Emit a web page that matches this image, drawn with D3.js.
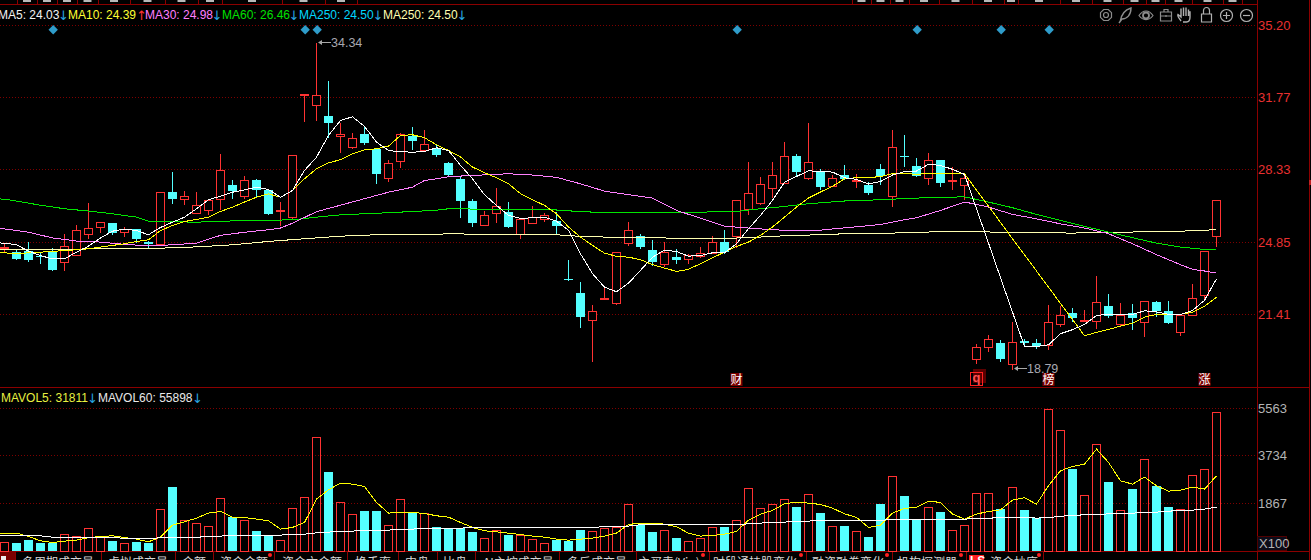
<!DOCTYPE html>
<html><head><meta charset="utf-8">
<script src="https://cdn.jsdelivr.net/npm/d3@7/dist/d3.min.js"></script>
<style>
html,body{margin:0;padding:0;background:#000;overflow:hidden}
svg{display:block;font-family:"Liberation Sans",Arial,sans-serif}
.tab{font-family:"Noto Sans CJK SC",sans-serif;font-size:12px;fill:#d8d8d8}
</style></head><body>
<svg id="c" width="1311" height="560"></svg>
<script>
const opens=[24.57,24.38,24.43,24.19,24.38,23.91,24.24,25.24,25.58,25.77,25.34,25.48,24.86,24.77,27.25,26.91,26.25,26.39,26.91,27.58,27.06,27.82,27.34,26.34,26.05,31.88,31.40,30.87,29.92,29.40,30.02,29.30,27.92,28.73,29.92,29.25,29.30,28.63,27.87,26.82,25.67,26.25,26.29,25.24,25.77,25.96,25.86,23.10,22.43,21.14,22.12,21.95,24.81,25.15,24.48,23.81,24.15,24.05,24.19,24.34,24.86,25.15,26.44,26.72,27.44,27.68,28.96,27.92,28.25,27.53,28.06,27.80,27.58,28.35,27.06,28.96,28.49,27.92,28.77,27.77,27.58,19.28,19.85,20.04,19.04,20.14,20.04,19.95,20.95,21.47,21.12,21.09,21.81,20.95,21.47,21.04,22.00,21.57,20.57,21.38,22.33,25.15];
const highs=[24.81,24.53,24.86,24.34,24.57,25.24,25.67,26.72,25.82,25.77,25.58,25.48,24.91,27.25,28.20,27.30,27.25,26.87,29.06,27.82,28.01,27.87,27.34,26.77,29.01,31.92,34.34,32.54,30.54,30.06,30.40,29.30,28.77,30.06,30.35,30.21,29.54,28.68,28.01,26.91,26.34,27.44,26.77,25.96,26.58,26.25,26.29,24.00,22.95,21.85,22.76,24.38,25.82,25.24,24.95,24.86,24.53,24.29,24.62,25.15,25.43,26.87,28.68,27.96,28.68,29.63,29.06,30.54,28.35,28.06,28.54,28.11,27.72,28.58,30.21,29.97,28.87,29.11,28.77,28.44,28.15,19.99,20.42,20.18,21.04,20.23,20.23,21.85,21.81,21.71,21.62,23.24,22.38,21.95,21.90,22.05,22.05,22.05,21.38,22.86,24.43,26.87];
const lows=[24.38,24.05,23.96,23.86,23.53,23.53,24.24,25.05,25.34,25.24,25.15,24.86,24.62,24.77,26.72,26.68,26.25,26.20,26.44,26.96,26.96,27.01,26.20,25.67,25.96,30.64,30.68,29.87,29.16,29.35,29.54,27.68,27.77,28.44,29.30,29.25,28.96,28.06,26.05,25.62,25.67,25.82,25.58,25.05,25.77,25.86,25.29,23.05,20.81,19.18,22.12,21.90,24.72,24.57,23.76,23.72,23.86,23.86,24.15,24.34,24.34,24.62,26.20,26.68,27.01,27.68,28.01,27.87,27.39,27.53,27.87,27.49,27.15,27.63,26.58,28.49,28.01,27.63,27.53,27.39,26.91,19.09,19.66,19.18,18.79,19.90,19.80,19.76,20.85,21.09,21.09,20.76,21.28,20.90,20.71,20.37,21.33,21.00,20.42,21.38,22.09,24.67];
const closes=[24.62,24.05,24.00,24.15,23.53,24.67,25.43,25.53,25.82,25.29,25.48,25.00,24.77,27.25,26.91,27.06,26.63,26.87,28.30,27.30,27.82,27.34,26.20,26.39,29.01,31.92,31.88,30.54,30.02,29.82,29.59,28.11,28.63,30.02,29.68,29.54,29.01,28.06,26.82,25.77,26.15,26.58,25.58,25.96,26.05,26.15,25.62,23.05,21.28,21.57,22.17,24.38,25.43,24.62,23.91,24.38,24.00,24.24,24.34,24.86,24.38,26.87,27.20,27.63,28.06,28.96,28.20,28.68,27.49,27.92,27.87,27.84,27.20,28.01,29.40,28.92,28.01,28.77,27.68,27.82,27.92,19.85,20.23,19.28,20.09,20.04,19.90,21.04,21.38,21.23,21.16,22.00,21.33,21.38,21.23,22.05,21.57,21.00,21.38,22.19,24.43,26.87];
const volumes=[376,311,428,311,324,687,610,921,610,389,337,350,311,1660,2490,1232,1115,999,2088,1349,1232,778,648,454,1699,2127,4462,3074,1933,1466,1556,1556,1038,2049,1479,1479,960,856,908,739,532,843,623,648,493,337,428,389,817,804,921,960,1855,1012,739,843,506,415,532,960,934,1232,2477,1699,1829,2049,1712,2244,1479,999,973,804,545,1829,2944,2140,1206,1738,1517,843,1038,2283,2283,1660,2516,1595,1297,5551,4734,3191,2205,4176,2685,1621,2412,3606,2529,1712,1660,2983,3204,5434];

const ma5=[24.85,24.83,24.75,24.45,24.23,24.08,24.08,24.40,24.69,25.07,25.40,25.50,25.43,25.23,25.58,25.83,26.07,26.47,26.90,27.07,27.26,27.37,27.50,27.39,27.02,27.34,28.30,28.93,29.97,30.68,30.86,30.40,29.65,29.25,29.19,29.17,29.20,29.38,29.25,28.54,27.90,27.14,26.63,26.15,26.01,26.04,26.07,25.88,25.44,24.32,23.37,22.73,22.51,22.92,23.53,24.16,24.50,24.43,24.21,24.24,24.37,24.37,24.80,25.52,26.15,26.87,27.74,28.01,28.28,28.25,28.22,27.95,27.87,27.65,27.77,28.08,28.24,28.27,28.59,28.54,28.35,28.11,26.47,24.83,23.18,21.54,19.90,19.90,19.98,20.51,20.70,20.95,21.38,21.43,21.43,21.43,21.60,21.55,21.43,21.43,21.62,22.10,23.13];
const ma10=[24.37,24.37,24.32,24.37,24.40,24.43,24.48,24.51,24.56,24.64,24.72,24.80,24.91,24.99,25.43,25.67,25.86,25.96,26.07,26.34,26.55,26.79,27.02,27.18,27.02,27.34,27.90,28.38,28.66,28.81,29.09,29.28,29.33,29.46,29.97,30.00,29.86,29.52,29.25,28.94,28.46,28.19,27.95,27.66,27.19,26.90,26.63,26.23,25.60,25.12,24.72,24.35,24.20,24.16,24.04,23.80,23.64,23.48,23.58,23.85,24.13,24.40,24.67,24.88,25.20,25.60,26.07,26.55,26.98,27.27,27.54,27.90,27.95,27.95,28.01,28.14,28.14,28.12,28.14,28.14,28.14,28.14,27.36,26.60,25.82,25.04,24.28,23.50,22.73,21.95,21.19,20.41,20.57,20.71,20.87,21.01,21.30,21.43,21.41,21.43,21.54,21.81,22.25];

const ma30Idx=[-1,0,2,4,6,8,10,12,14,16,18,20,22,23,24,26,28,30,32,34,35,36,37,39,42,44,46,48,50,52,54,56,58,60,62,64,66,68,70,72,73,75,76,78,80,81,82,84,86,88,90,92,94,96,98,99,100,101];
const ma30=[25.54,25.51,25.35,25.08,24.93,24.88,24.77,24.70,24.75,24.83,25.20,25.35,25.47,25.55,25.78,26.33,26.64,26.95,27.26,27.50,27.82,27.90,28.00,28.06,28.14,28.08,27.97,27.66,27.31,27.14,26.98,26.39,26.02,25.64,25.55,25.47,25.42,25.45,25.56,25.66,25.72,25.95,26.04,26.39,26.79,26.68,26.55,26.20,25.99,25.75,25.55,25.28,24.80,24.28,23.80,23.58,23.50,23.40];
const ma60Idx=[-1,0,3,5,7,9,11,12,13,16,20,24,26,28,32,36,37,46,47,50,52,58,61,63,65,67,70,73,76,80,82,84,86,88,90,92,94,96,98,100,101];
const ma60=[26.95,26.93,26.64,26.47,26.36,26.23,26.07,25.88,25.86,25.83,25.91,25.94,26.07,26.18,26.28,26.40,26.47,26.41,26.37,26.28,26.31,26.31,26.34,26.47,26.58,26.71,26.84,26.90,26.98,27.04,26.79,26.52,26.20,25.91,25.63,25.36,25.09,24.83,24.64,24.53,24.50];
const ma250Idx=[-1,0,10,13,16,19,22,25,28,31,36,38,39,46,47,50,52,60,63,65,69,70,73,74,77,80,85,87,89,92,95,98,100,101];
const ma250=[24.53,24.53,24.56,24.59,24.65,24.75,24.91,25.04,25.16,25.23,25.26,25.28,25.23,25.23,25.18,25.12,25.09,25.05,25.12,25.18,25.25,25.28,25.28,25.31,25.36,25.39,25.32,25.32,25.31,25.34,25.37,25.40,25.44,25.48];

const mavol5=[726,726,726,597,428,363,415,454,545,597,623,558,493,389,571,1038,1167,1310,1505,1569,1349,1336,1271,1206,882,947,1141,2049,2412,2672,2633,2542,1920,1505,1543,1530,1492,1401,1349,1141,947,817,778,726,674,610,571,493,454,493,532,610,726,1064,1115,1115,1077,973,726,610,636,687,791,1232,1466,1608,1868,1933,1894,1842,1699,1479,1336,947,1038,1505,1686,1738,1971,1920,1466,1271,1466,1569,1634,2010,2101,1855,2568,3152,3320,3411,3995,3476,2763,2633,2905,2568,2361,2399,2516,2438,2957];
const mavol60Idx=[-1,0,3,4,9,10,12,13,16,17,18,19,23,24,25,26,27,28,29,30,32,33,34,35,36,38,39,49,50.5,52,53,61,62,63,64,65,66,67,68,73,74,80,81,82,83,85,86,87,88,89,91,92,94,95,96,97,99,100,101];
const mavol60=[623,623,623,571,571,519,519,545,558,610,610,648,648,687,687,739,765,804,804,843,843,882,882,921,921,921,947,947,999,999,1051,1051,1089,1115,1154,1154,1193,1193,1232,1232,1245,1271,1297,1297,1349,1349,1310,1336,1375,1427,1440,1479,1505,1530,1543,1582,1621,1660,1738];

const priceTicks=[35.20,31.77,28.33,24.85,21.41];
const volumeTicks=[5563,3734,1867];
const legendMain=[["MA5: 24.03",-2,"#f4f4f4","↓",58,"#27a4e0"],["MA10: 24.39",68,"#ffff33","↑",136,"#ff3232"],["MA30: 24.98",145,"#ff7fff","↓",211.5,"#27a4e0"],["MA60: 26.46",222,"#00e000","↓",288.5,"#27a4e0"],["MA250: 24.50",299,"#00d8ff","↓",372.5,"#27a4e0"],["MA250: 24.50",383,"#ffffb0","↓",456.5,"#27a4e0"]];
const legendVol=[["MAVOL5: 31811",1,"#e8f040","↓",87,"#27a4e0"],["MAVOL60: 55898",98,"#e8e8e8","↓",192,"#27a4e0"]];
const eventIdx=[4,25,26,61,76,83,87];
const flagIdx=[61,87,100], flagText=["财","榜","涨"], qIdx=81;
const tabNames=["多周期成交量","虚拟成交量","金额","资金金额","资金六金额","换手率","中盘","比盘","AI主控成交量","多反成交量","主买卖(Vip)","时段通持股变化","融资融券变化","机构探测器","资金抄底"];
const tabStart=[22,108,182,220,282,355,405,443,483,567,638,713,812,897,990];
const tabSeps=[15,101,175,213,274,347,398,437,475,559,636,709,806,892,966,1043];
const tabDots=[270,703,801,887,961,1039];
const topSeps=[17,37,57,77,98,130,165,198,222,282,325,357,852,871,890,909,939,972,1004,1018,1060,1092,1123,1146,1165,1192,1223,1242];

const RED="#ff3232",CYAN="#54ffff",FRAME="#8b0000",GRID="#7d0000";
const svg=d3.select("#c");
const x=d3.scaleLinear().domain([0,101]).range([4.5,1216.5]);
const y=d3.scaleLinear().domain([21.41,35.20]).range([314.3,25.3]);
const v=d3.scaleLinear().domain([0,5563]).range([551.3,408.3]);
const py=p=>Math.round(y(p)), vy=q=>Math.round(v(q));
const clipId="plot";
svg.append("defs").append("clipPath").attr("id",clipId).append("rect").attr("width",1256).attr("height",560);

/* frame */
const frame=svg.append("g").attr("stroke",FRAME).attr("shape-rendering","crispEdges");
[[0,4.5,1257,4.5],[0,387.5,1309,387.5],[0,551.5,1309,551.5],[1257.5,0,1257.5,560],[1309.5,0,1309.5,560]].forEach(l=>frame.append("line").attr("x1",l[0]).attr("y1",l[1]).attr("x2",l[2]).attr("y2",l[3]));
topSeps.forEach(s=>frame.append("line").attr("x1",s+.5).attr("x2",s+.5).attr("y1",0).attr("y2",4));
svg.append("g").attr("fill","#b8b8b8").selectAll("rect").data(topSeps.slice(0,-1)).join("rect")
  .attr("x",(d,i)=>d+(topSeps[i+1]-d)/2-4).attr("y",0).attr("width",8).attr("height",2)
  .attr("display",(d,i)=>(topSeps[i+1]-d>200)?"none":null);
svg.append("rect").attr("x",1309).attr("y",180).attr("width",2).attr("height",5).attr("fill","#c02020");

/* grids + axes */
const gridG=svg.append("g").attr("stroke",GRID).attr("stroke-dasharray","1,2").attr("shape-rendering","crispEdges");
priceTicks.forEach(t=>gridG.append("line").attr("x1",0).attr("x2",1257).attr("y1",py(t)+.5).attr("y2",py(t)+.5));
volumeTicks.forEach(t=>gridG.append("line").attr("x1",0).attr("x2",1257).attr("y1",vy(t)+.5).attr("y2",vy(t)+.5));
const ax1=svg.append("g").attr("transform","translate(1258,0)").call(d3.axisRight(y).tickValues(priceTicks).tickSize(0).tickPadding(0).tickFormat(d3.format(".2f")));
ax1.select(".domain").remove();
ax1.selectAll("text").attr("fill","#e83030").attr("font-size",13).attr("font-family","'Liberation Sans',Arial,sans-serif");
const ax2=svg.append("g").attr("transform","translate(1258,0)").call(d3.axisRight(v).tickValues(volumeTicks).tickSize(0).tickPadding(0).tickFormat(d3.format("d")));
ax2.select(".domain").remove();
ax2.selectAll("text").attr("fill","#b4b4b4").attr("font-size",13).attr("font-family","'Liberation Sans',Arial,sans-serif");
svg.append("rect").attr("x",1257.5).attr("y",536.5).attr("width",29).attr("height",14).attr("fill","#0c0c18").attr("stroke","#500000");
svg.append("text").attr("x",1259).attr("y",548).attr("fill","#b4b4b4").attr("font-size",13).text("X100");

/* candles */
const idx=d3.range(opens.length);
const cand=svg.append("g").attr("shape-rendering","crispEdges").attr("clip-path","url(#"+clipId+")");
const up=i=>closes[i]>=opens[i];
cand.selectAll("line.w").data(idx).join("line").attr("class","w")
  .attr("x1",i=>x(i)).attr("x2",i=>x(i)).attr("y1",i=>py(highs[i])).attr("y2",i=>py(lows[i])+1)
  .attr("stroke",i=>up(i)?RED:CYAN);
cand.selectAll("rect.b").data(idx).join("rect").attr("class","b")
  .attr("x",i=>up(i)?x(i)-4:x(i)-4.5)
  .attr("y",i=>py(Math.max(opens[i],closes[i]))+(up(i)?.5:0))
  .attr("width",i=>up(i)?8:9)
  .attr("height",i=>Math.max(1,py(Math.min(opens[i],closes[i]))-py(Math.max(opens[i],closes[i]))))
  .attr("fill",i=>up(i)?"#000":CYAN)
  .attr("stroke",i=>up(i)?RED:"none");

/* MA lines */
const lineG=svg.append("g").attr("fill","none").attr("shape-rendering","crispEdges").attr("clip-path","url(#"+clipId+")");
const seq=a=>a.map((d,i)=>[i-1,d]);
const zip=(ix,a)=>ix.map((k,i)=>[k,a[i]]);
const pLine=d3.line().x(d=>x(d[0])).y(d=>y(d[1])+.5);
[[zip(ma250Idx,ma250),"#ffffb0"],[zip(ma60Idx,ma60),"#00e600"],[zip(ma30Idx,ma30),"#ff80ff"],[seq(ma10),"#ffff00"],[seq(ma5),"#ffffff"]]
 .forEach(s=>lineG.append("path").attr("d",pLine(s[0])).attr("stroke",s[1]));

/* volume */
const vol=svg.append("g").attr("shape-rendering","crispEdges");
vol.selectAll("rect").data(idx).join("rect")
  .attr("x",i=>up(i)?x(i)-4:x(i)-4.5).attr("y",i=>vy(volumes[i])+(up(i)?.5:0))
  .attr("width",i=>up(i)?8:9)
  .attr("height",i=>551-vy(volumes[i]))
  .attr("fill",i=>up(i)?"none":CYAN).attr("stroke",i=>up(i)?RED:"none");
const vLine=d3.line().x(d=>x(d[0])).y(d=>v(d[1])+.5);
const vG=svg.append("g").attr("fill","none").attr("shape-rendering","crispEdges").attr("clip-path","url(#"+clipId+")");
vG.append("path").attr("d",vLine(seq(mavol5))).attr("stroke","#ffff00");
vG.append("path").attr("d",vLine(zip(mavol60Idx,mavol60))).attr("stroke","#ffffff");

/* legends */
function legend(rows,yy){const g=svg.append("g").attr("font-size",12);
 rows.forEach(r=>{g.append("text").attr("x",r[1]).attr("y",yy).attr("fill",r[2]).text(r[0]);
  g.append("text").attr("x",r[4]).attr("y",yy+1).attr("fill",r[5]).attr("font-family","DejaVu Sans").attr("font-size",13).attr("textLength",7).text(r[3]);});}
legend(legendMain,19);legend(legendVol,402);

/* diamonds */
svg.append("g").selectAll("path").data(eventIdx).join("path")
 .attr("d",d3.symbol(d3.symbolSquare,44))
 .attr("transform",i=>`translate(${x(i)+.7},29.7) rotate(45)`).attr("fill","#2f9cca");

/* hi-lo labels */
function note(i,price,txt){const yy=py(price)-1, x0=x(i)+1.5;
 svg.append("path").attr("d",`M${x0} ${yy+.5}l4 -2.5v2h9v1h-9v2z`).attr("fill","#a8a8a8");
 svg.append("text").attr("x",x0+13).attr("y",yy+5).attr("fill","#a8a8b0").attr("font-size",12.5).text(txt);}
note(26,34.34,"34.34");note(84,18.79,"18.79");

/* flags */
const fl=svg.append("g");
flagIdx.forEach((i,k)=>{fl.append("rect").attr("x",x(i)-6).attr("y",373).attr("width",12).attr("height",13).attr("fill","#7a0000");
 fl.append("text").attr("x",x(i)).attr("y",384).attr("text-anchor","middle").attr("fill","#fff").attr("font-size",12).attr("font-family","'Noto Sans CJK SC'").text(flagText[k]);});
fl.append("rect").attr("x",x(qIdx)-3.5).attr("y",369).attr("width",13).attr("height",14).attr("fill","#5a0000");
fl.append("rect").attr("x",x(qIdx)-6).attr("y",372.5).attr("width",12).attr("height",13).attr("fill","none").attr("stroke","#ff2020").attr("shape-rendering","crispEdges");
fl.append("text").attr("x",x(qIdx)).attr("y",382).attr("text-anchor","middle").attr("fill","#ff5050").attr("font-size",13).attr("font-weight","bold").text("q");

/* tabs */
const tabs=svg.append("g");
tabs.append("rect").attr("x",0).attr("y",552).attr("width",15).attr("height",8).attr("fill","#7a0000");
tabs.append("rect").attr("x",1).attr("y",556).attr("width",5).attr("height",4).attr("fill","#eee");
tabNames.forEach((t,i)=>tabs.append("text").attr("class","tab").attr("x",tabStart[i]).attr("y",567).text(t));
tabSeps.forEach(s=>tabs.append("line").attr("x1",s+.5).attr("x2",s+.5).attr("y1",552).attr("y2",560).attr("stroke",FRAME).attr("shape-rendering","crispEdges"));
tabDots.forEach(d=>tabs.append("circle").attr("cx",d).attr("cy",555).attr("r",2).attr("fill","#ff2020"));
tabs.append("rect").attr("x",969).attr("y",555).attr("width",15).attr("height",5).attr("fill","#ff2020");
tabs.append("text").attr("x",970).attr("y",565).attr("fill","#fff").attr("font-size",12).attr("font-weight","bold").text("LS");

/* toolbar icons */
const ic=svg.append("g").attr("fill","none").attr("stroke","#8c8c8c").attr("stroke-width",1.2);
ic.append("circle").attr("cx",1106).attr("cy",15).attr("r",2.5);
ic.append("path").attr("d",d3.range(8).map(k=>{const a=k*Math.PI/4+.39;return (k?"L":"M")+(1106+6*Math.cos(a)).toFixed(1)+" "+(15+6*Math.sin(a)).toFixed(1);}).join("")+"Z");
ic.append("path").attr("d","M1120 22C1121 15 1124 10 1131 8C1131 15 1127 19 1122 19L1119 23").attr("stroke-width",1.4);
ic.append("path").attr("d","M1139 15.5C1143 9.5 1149 9.5 1153 15.5C1149 21 1143 21 1139 15.5Z");
ic.append("circle").attr("cx",1146).attr("cy",15.5).attr("r",3).attr("stroke-width",1.8);
ic.append("path").attr("d","M1160.5 12h11v9h-11zM1160.5 16h11M1164 12v-2.5h4v2.5M1166 15v2");
ic.append("path").attr("d","M1181 21C1179 18 1177 16 1178 14.5L1181 17V10M1181 11V8.5M1183.5 16V7.5M1186 16V7.5M1188.5 16V9.5M1188.5 12h1.5V17C1190 20 1188.5 22 1186.5 22H1183").attr("stroke","#b0b0b0").attr("stroke-width",1.4);
ic.append("path").attr("d","M1201.5 14h10v8h-10zM1203.5 14v-3.5a3 3 0 0 1 6 0v3.5").attr("stroke","#b0b0b0");
ic.append("circle").attr("cx",1226.5).attr("cy",15.5).attr("r",6).attr("stroke","#b0b0b0");
ic.append("path").attr("d","M1223 15.5h7M1226.5 12v7").attr("stroke","#b0b0b0");
ic.append("circle").attr("cx",1246.5).attr("cy",15.5).attr("r",6).attr("stroke","#b0b0b0");
ic.append("path").attr("d","M1243 15.5h7").attr("stroke","#b0b0b0");
</script>
</body></html>
